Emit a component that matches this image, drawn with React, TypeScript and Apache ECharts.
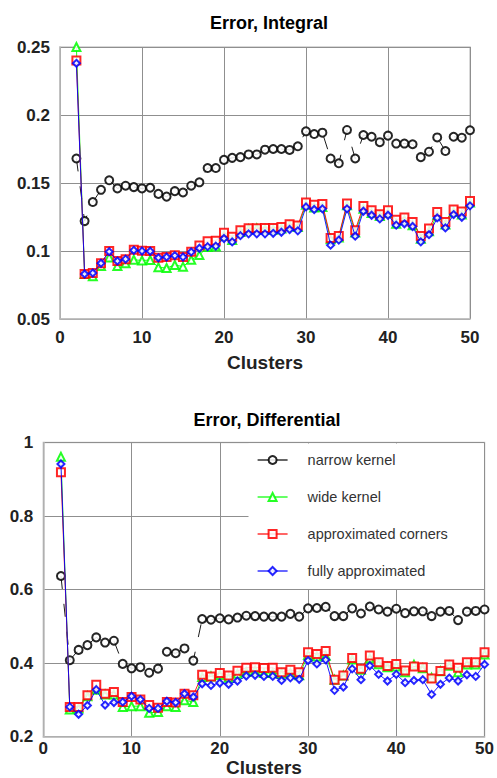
import React, { useEffect, useRef } from "react";
import * as echarts from "echarts";

const clusters = [2, 3, 4, 5, 6, 7, 8, 9, 10, 11, 12, 13, 14, 15, 16, 17, 18, 19, 20, 21, 22, 23, 24, 25, 26, 27, 28, 29, 30, 31, 32, 33, 34, 35, 36, 37, 38, 39, 40, 41, 42, 43, 44, 45, 46, 47, 48, 49, 50];

const seriesNames = ["narrow kernel", "wide kernel", "approximated corners", "fully approximated"];

const intNarrow = [0.168, 0.122, 0.136, 0.145, 0.152, 0.146, 0.148, 0.147, 0.146, 0.1465, 0.142, 0.140, 0.144, 0.143, 0.148, 0.1505, 0.161, 0.161, 0.167, 0.1685, 0.169, 0.171, 0.171, 0.1745, 0.175, 0.175, 0.1743, 0.177, 0.188, 0.186, 0.187, 0.168, 0.1645, 0.189, 0.168, 0.1853, 0.184, 0.180, 0.1848, 0.179, 0.179, 0.1785, 0.169, 0.173, 0.1835, 0.1735, 0.184, 0.1833, 0.1888];
const intWide = [0.25, 0.083, 0.0814, 0.089, 0.0953, 0.089, 0.091, 0.0936, 0.093, 0.0934, 0.088, 0.0875, 0.0897, 0.0885, 0.0936, 0.097, 0.103, 0.1034, 0.111, 0.108, 0.114, 0.116, 0.1165, 0.116, 0.1157, 0.1165, 0.1185, 0.1177, 0.134, 0.132, 0.1324, 0.1087, 0.110, 0.1337, 0.1136, 0.131, 0.128, 0.1257, 0.128, 0.120, 0.1227, 0.119, 0.109, 0.1145, 0.1263, 0.1195, 0.1287, 0.1268, 0.1356];
const intCorners = [0.240, 0.0831, 0.0838, 0.091, 0.100, 0.0926, 0.094, 0.101, 0.1002, 0.100, 0.095, 0.0956, 0.0968, 0.0956, 0.0995, 0.104, 0.1072, 0.1075, 0.1135, 0.1105, 0.1153, 0.1167, 0.1167, 0.117, 0.117, 0.1177, 0.1197, 0.1187, 0.1356, 0.134, 0.1346, 0.1096, 0.111, 0.135, 0.1153, 0.133, 0.130, 0.127, 0.130, 0.123, 0.1246, 0.1214, 0.111, 0.1165, 0.1287, 0.1214, 0.1305, 0.129, 0.1368];
const intFull = [0.238, 0.0831, 0.0838, 0.091, 0.0995, 0.0926, 0.094, 0.1005, 0.1, 0.0998, 0.095, 0.0956, 0.0966, 0.0956, 0.0993, 0.102, 0.1032, 0.1036, 0.1092, 0.1067, 0.1113, 0.1126, 0.1126, 0.1126, 0.113, 0.1138, 0.1158, 0.1148, 0.1324, 0.1305, 0.131, 0.1043, 0.108, 0.131, 0.1109, 0.1292, 0.1263, 0.1236, 0.1263, 0.119, 0.120, 0.118, 0.1067, 0.112, 0.1243, 0.117, 0.1268, 0.1248, 0.1332];

const diffNarrow = [0.637, 0.408, 0.436, 0.449, 0.470, 0.456, 0.461, 0.398, 0.386, 0.389, 0.374, 0.385, 0.431, 0.427, 0.440, 0.407, 0.520, 0.518, 0.522, 0.519, 0.524, 0.529, 0.528, 0.5265, 0.5265, 0.5265, 0.534, 0.5265, 0.549, 0.550, 0.553, 0.528, 0.528, 0.549, 0.535, 0.554, 0.546, 0.540, 0.548, 0.536, 0.541, 0.541, 0.528, 0.540, 0.542, 0.517, 0.540, 0.542, 0.546];
const diffWide = [0.961, 0.274, 0.277, 0.310, 0.328, 0.3145, 0.3145, 0.281, 0.283, 0.283, 0.265, 0.2675, 0.283, 0.281, 0.299, 0.2945, 0.362, 0.364, 0.368, 0.360, 0.371, 0.376, 0.380, 0.373, 0.373, 0.371, 0.373, 0.367, 0.4225, 0.418, 0.420, 0.355, 0.3665, 0.410, 0.382, 0.413, 0.397, 0.389, 0.391, 0.375, 0.396, 0.386, 0.360, 0.378, 0.393, 0.3755, 0.396, 0.396, 0.4235];
const diffCorners = [0.919, 0.281, 0.281, 0.313, 0.3415, 0.317, 0.3215, 0.2945, 0.308, 0.301, 0.286, 0.2785, 0.2945, 0.293, 0.317, 0.313, 0.3685, 0.364, 0.373, 0.3665, 0.379, 0.3875, 0.389, 0.3865, 0.3875, 0.3755, 0.382, 0.3755, 0.4295, 0.425, 0.433, 0.355, 0.3665, 0.414, 0.3845, 0.4205, 0.4025, 0.392, 0.398, 0.380, 0.391, 0.389, 0.358, 0.3785, 0.3965, 0.3875, 0.4025, 0.4025, 0.4295];
const diffFull = [0.9415, 0.281, 0.261, 0.285, 0.328, 0.286, 0.293, 0.2945, 0.310, 0.301, 0.277, 0.277, 0.2965, 0.293, 0.317, 0.308, 0.344, 0.3395, 0.346, 0.3425, 0.3515, 0.365, 0.367, 0.364, 0.364, 0.353, 0.360, 0.356, 0.407, 0.398, 0.409, 0.326, 0.335, 0.3845, 0.355, 0.393, 0.3695, 0.3515, 0.3695, 0.347, 0.353, 0.355, 0.315, 0.3425, 0.3595, 0.3515, 0.3685, 0.364, 0.3965];

const FONT = "'Liberation Sans', Arial, Helvetica, sans-serif";

const styles = [
  { color: "#000000", symbol: "emptyCircle", size: 8, dash: [13, 15] as any },
  { color: "#00ff00", symbol: "emptyTriangle", size: 8, dash: "solid" as any },
  { color: "#ff0000", symbol: "emptyRect", size: 8, dash: "solid" as any },
  { color: "#0000ff", symbol: "emptyDiamond", size: 7, dash: "solid" as any },
];

function pairs(vals: number[]) {
  return clusters.map((c, i) => [c, vals[i]]);
}

export default function App() {
  const ref = useRef<HTMLDivElement>(null);
  useEffect(() => {
    if (!ref.current) return;
    const chart = echarts.init(ref.current, undefined, { renderer: "svg" });
    const topData = [intNarrow, intWide, intCorners, intFull];
    const botData = [diffNarrow, diffWide, diffCorners, diffFull];

    const mkSeries = (data: number[][], idx: number) =>
      data.map((vals, i) => ({
        type: "line",
        name: seriesNames[i],
        xAxisIndex: idx,
        yAxisIndex: idx,
        data: pairs(vals),
        symbol: styles[i].symbol,
        symbolSize: styles[i].size,
        showSymbol: true,
        z: 3 + i,
        lineStyle: { color: styles[i].color, width: 0.9, type: styles[i].dash },
        itemStyle: { color: styles[i].color, borderColor: styles[i].color, borderWidth: 0.8, opacity: 0.85 },
        emphasis: { disabled: true },
      }));

    const labelStyle = { fontFamily: FONT, fontSize: 17, fontWeight: "bold", color: "#222" };
    const axisCommon = {
      axisTick: { show: false },
      axisLine: { show: true, lineStyle: { color: "#bbbbbb", width: 1.5 } },
      splitLine: { show: true, lineStyle: { color: "#8f8f8f", width: 1 } },
    };

    chart.setOption({
      animation: false,
      backgroundColor: "#ffffff",
      title: [
        {
          text: "Error, Integral",
          left: 264,
          top: 9,
          textAlign: "center",
          textStyle: { fontFamily: FONT, fontSize: 18, fontWeight: "bold", color: "#000" },
        },
        {
          text: "Error, Differential",
          left: 262,
          top: 406,
          textAlign: "center",
          textStyle: { fontFamily: FONT, fontSize: 18, fontWeight: "bold", color: "#000" },
        },
      ],
      grid: [
        { left: 60, right: 27, top: 47, height: 272, show: true, borderColor: "#cccccc", borderWidth: 1.5, backgroundColor: "transparent" },
        { left: 43.3, right: 12, top: 442.5, height: 294.2, show: true, borderColor: "#cccccc", borderWidth: 1.5, backgroundColor: "transparent" },
      ],
      xAxis: [
        {
          type: "value", gridIndex: 0, min: 0, max: 50, interval: 10,
          name: "Clusters", nameLocation: "middle", nameGap: 34,
          nameTextStyle: { fontFamily: FONT, fontSize: 19, fontWeight: "bold", color: "#222" },
          axisLabel: { ...labelStyle, margin: 10 },
          ...axisCommon,
        },
        {
          type: "value", gridIndex: 1, min: 0, max: 50, interval: 10,
          name: "Clusters", nameLocation: "middle", nameGap: 21,
          nameTextStyle: { fontFamily: FONT, fontSize: 19, fontWeight: "bold", color: "#222" },
          axisLabel: { ...labelStyle, margin: 3 },
          ...axisCommon,
        },
      ],
      yAxis: [
        {
          type: "value", gridIndex: 0, min: 0.05, max: 0.25, interval: 0.05,
          axisLabel: { ...labelStyle, margin: 10 },
          ...axisCommon,
        },
        {
          type: "value", gridIndex: 1, min: 0.2, max: 1, interval: 0.2,
          axisLabel: { ...labelStyle, margin: 10 },
          ...axisCommon,
        },
      ],
      graphic: [
        {
          type: "rect",
          z: 1,
          shape: { x: 248.5, y: 443.5, width: 235.5, height: 145.5 },
          style: { fill: "#ffffff" },
          silent: true,
        },
      ],
      legend: {
        show: true,
        orient: "vertical",
        left: 252,
        top: 447,
        itemWidth: 30,
        itemHeight: 10,
        itemGap: 21,
        data: seriesNames.map((n) => ({ name: n, lineStyle: { type: "solid", width: 1.2 } })),
        textStyle: { fontFamily: FONT, fontSize: 14.5, color: "#333", padding: [0, 0, 0, 15], lineHeight: 16 },
        selectedMode: false,
        z: 10,
      },
      series: [...mkSeries(topData, 0), ...mkSeries(botData, 1)],
    });
    return () => chart.dispose();
  }, []);
  return <div ref={ref} style={{ position: "absolute", left: 0, top: 0, width: 497, height: 778 }} />;
}
